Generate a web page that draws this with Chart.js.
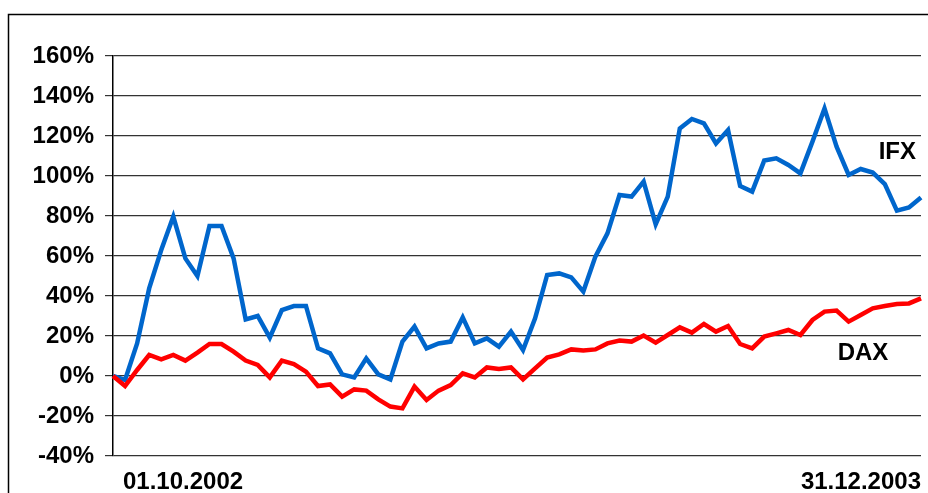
<!DOCTYPE html>
<html>
<head>
<meta charset="utf-8">
<script src="https://cdn.jsdelivr.net/npm/chart.js@4/dist/chart.umd.min.js"></script>
<style>
  html, body { margin: 0; padding: 0; background: #fff; }
  canvas { display: block; }
</style>
</head>
<body>
<canvas id="c" width="928" height="493"></canvas>
<script>
// ---- data (percent change since 01.10.2002, weekly) ----
const firstDate = '01.10.2002';
const lastDate = '31.12.2003';
const ifx = [0, -2, 16.3, 43.8, 63, 79.7, 58.8, 50, 75, 75, 58.8, 28.3, 30, 19.2, 33, 35, 35,
  13.8, 11.3, 0.8, -0.7, 8.8, 0.8, -1.7, 17.2, 24.7, 13.8, 16.3, 17.2, 29.3, 16.3, 18.8, 14.7, 22.2,
  13, 28.8, 50.5, 51.3, 49.3, 42.2, 59.7, 71.3, 90.5, 89.7, 97.2, 75.8, 89.7, 123.8, 128.5, 126.3,
  116.3, 123, 95, 92.2, 107.7, 108.8, 105.5, 101.3, 117.2, 133.8, 114.7, 100.5, 103.5, 101.7, 96, 82.7, 84.3, 89.3];
const dax = [0, -5, 3, 10.5, 8.3, 10.5, 7.7, 11.7, 16, 16, 12.2, 7.7, 5.5, -0.7, 7.7, 6, 2.2,
  -5, -4.2, -10.3, -6.7, -7.3, -11.7, -15.3, -16.2, -5.3, -12, -7.3, -4.5, 1.3, -0.7, 4.3, 3.5, 4.3,
  -1.7, 3.8, 9.2, 10.8, 13.3, 12.7, 13.3, 16.3, 17.7, 17.2, 20.2, 16.7, 20.5, 24.3, 21.7, 26,
  22.2, 25, 16, 13.8, 19.7, 21.3, 23, 20.5, 28, 32.2, 32.7, 27.2, 30.5, 33.8, 35, 36, 36.3, 38.8];
const categories = ifx.map((_, i) => i === 0 ? firstDate : (i === ifx.length - 1 ? lastDate : ''));
const seriesNames = ['IFX', 'DAX'];
const yTicks = [-40, -20, 0, 20, 40, 60, 80, 100, 120, 140, 160];

const FONT = { family: '"Liberation Sans", Arial, sans-serif', size: 24, weight: 'bold' };
const fontStr = 'bold 24px "Liberation Sans", Arial, sans-serif';

const extras = {
  id: 'extras',
  beforeDraw(chart) {
    const ctx = chart.ctx;
    ctx.save();
    ctx.strokeStyle = '#000';
    ctx.lineWidth = 1.5;
    ctx.beginPath();
    ctx.moveTo(8.5, 493);
    ctx.lineTo(8.5, 14.5);
    ctx.lineTo(928, 14.5);
    ctx.stroke();
    ctx.restore();
  },
  afterDraw(chart) {
    const ctx = chart.ctx;
    const xs = chart.scales.x, ys = chart.scales.y, area = chart.chartArea;
    ctx.save();
    ctx.font = fontStr;
    ctx.fillStyle = '#000';
    ctx.textBaseline = 'middle';
    const yLab = area.bottom + 26;
    ctx.textAlign = 'left';
    ctx.fillText(categories[0], xs.getPixelForValue(0) + 10, yLab);
    ctx.textAlign = 'right';
    ctx.fillText(categories[categories.length - 1], xs.getPixelForValue(categories.length - 1), yLab);
    // series labels
    ctx.textAlign = 'right';
    ctx.fillText(seriesNames[0], area.right - 5, ys.getPixelForValue(111.6));
    ctx.textAlign = 'center';
    ctx.fillText(seriesNames[1], area.right - 58, ys.getPixelForValue(11.5));
    ctx.restore();
  }
};

new Chart(document.getElementById('c'), {
  type: 'line',
  data: {
    labels: categories,
    datasets: [
      { label: seriesNames[1], data: dax, borderColor: '#FF0000', backgroundColor: '#FF0000',
        borderWidth: 4.5, pointRadius: 0, tension: 0, clip: false },
      { label: seriesNames[0], data: ifx, borderColor: '#0066CC', backgroundColor: '#0066CC',
        borderWidth: 4.5, pointRadius: 0, tension: 0, clip: false }
    ]
  },
  options: {
    responsive: false,
    devicePixelRatio: 1,
    animation: false,
    layout: { padding: { left: 8, top: 56, right: 7, bottom: 37 } },
    plugins: { legend: { display: false }, tooltip: { enabled: false } },
    scales: {
      x: { display: false, offset: false },
      y: {
        min: -40, max: 160,
        afterBuildTicks: (scale) => { scale.ticks = yTicks.map(v => ({ value: v })); },
        afterFit: (scale) => { scale.width = 105; },
        ticks: { font: FONT, color: '#000', padding: 11, callback: (v) => v + '%' },
        grid: { color: '#333', lineWidth: 1.2, tickLength: 8, drawTicks: true },
        border: { display: true, color: '#000', width: 1.5 }
      }
    }
  },
  plugins: [extras]
});
</script>
</body>
</html>
